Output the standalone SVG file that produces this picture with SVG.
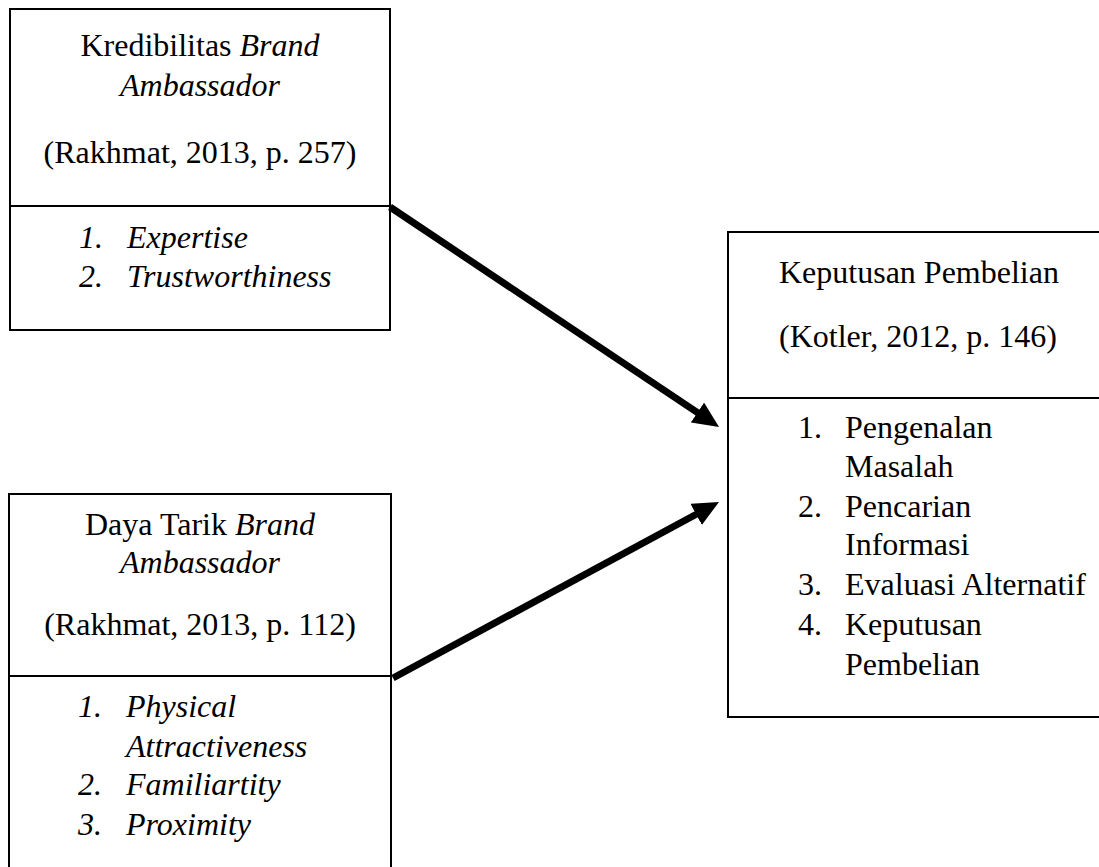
<svg xmlns="http://www.w3.org/2000/svg" width="1099" height="867" viewBox="0 0 1099 867">
<style>
.box{fill:none;stroke:#000;stroke-width:2}
.t{font-family:"Liberation Serif","Times New Roman",serif;font-size:32px;fill:#000}
.c{text-anchor:middle}
.i{font-style:italic}
.arr{stroke:#000;stroke-width:7;fill:none;marker-end:url(#ah)}
</style>
<defs>
<marker id="ah" markerUnits="userSpaceOnUse" viewBox="0 0 26 24" markerWidth="26" markerHeight="24" refX="6" refY="12" orient="auto">
<path d="M0,0 L26,12 L0,24 z" fill="#000"/>
</marker>
</defs>
<g id="node-kredibilitas">
<rect class="box" x="10" y="9" width="380" height="321"/>
<line class="box" x1="10" y1="206" x2="390" y2="206"/>
<text class="t c" x="200" y="56">Kredibilitas <tspan class="i">Brand</tspan></text>
<text class="t c i" x="200" y="96">Ambassador</text>
<text class="t c" x="200" y="163">(Rakhmat, 2013, p. 257)</text>
<text class="t i" x="79" y="248">1.</text><text class="t i" x="127" y="248">Expertise</text>
<text class="t i" x="79" y="287">2.</text><text class="t i" x="127" y="287">Trustworthiness</text>
</g>
<g id="node-daya-tarik">
<rect class="box" x="9" y="494" width="382" height="400"/>
<line class="box" x1="9" y1="676" x2="391" y2="676"/>
<text class="t c" x="200" y="535">Daya Tarik <tspan class="i">Brand</tspan></text>
<text class="t c i" x="200" y="573">Ambassador</text>
<text class="t c" x="200" y="635">(Rakhmat, 2013, p. 112)</text>
<text class="t i" x="78" y="717">1.</text><text class="t i" x="126" y="717">Physical</text>
<text class="t i" x="126" y="757">Attractiveness</text>
<text class="t i" x="78" y="795">2.</text><text class="t i" x="126" y="795">Familiartity</text>
<text class="t i" x="78" y="835">3.</text><text class="t i" x="126" y="835">Proximity</text>
</g>
<g id="node-keputusan">
<rect class="box" x="728" y="232" width="400" height="485"/>
<line class="box" x1="728" y1="398" x2="1110" y2="398"/>
<text class="t" x="779" y="283">Keputusan Pembelian</text>
<text class="t" x="779" y="347">(Kotler, 2012, p. 146)</text>
<text class="t" x="798" y="438">1.</text><text class="t" x="845" y="438">Pengenalan</text>
<text class="t" x="845" y="477">Masalah</text>
<text class="t" x="798" y="517">2.</text><text class="t" x="845" y="517">Pencarian</text>
<text class="t" x="845" y="555">Informasi</text>
<text class="t" x="798" y="595">3.</text><text class="t" x="845" y="595">Evaluasi Alternatif</text>
<text class="t" x="798" y="635">4.</text><text class="t" x="845" y="635">Keputusan</text>
<text class="t" x="845" y="675">Pembelian</text>
</g>
<g id="connectors">
<line class="arr" x1="390" y1="207" x2="702.4" y2="415.9"/>
<line class="arr" x1="393" y1="678" x2="701.4" y2="511.5"/>
</g>
</svg>
